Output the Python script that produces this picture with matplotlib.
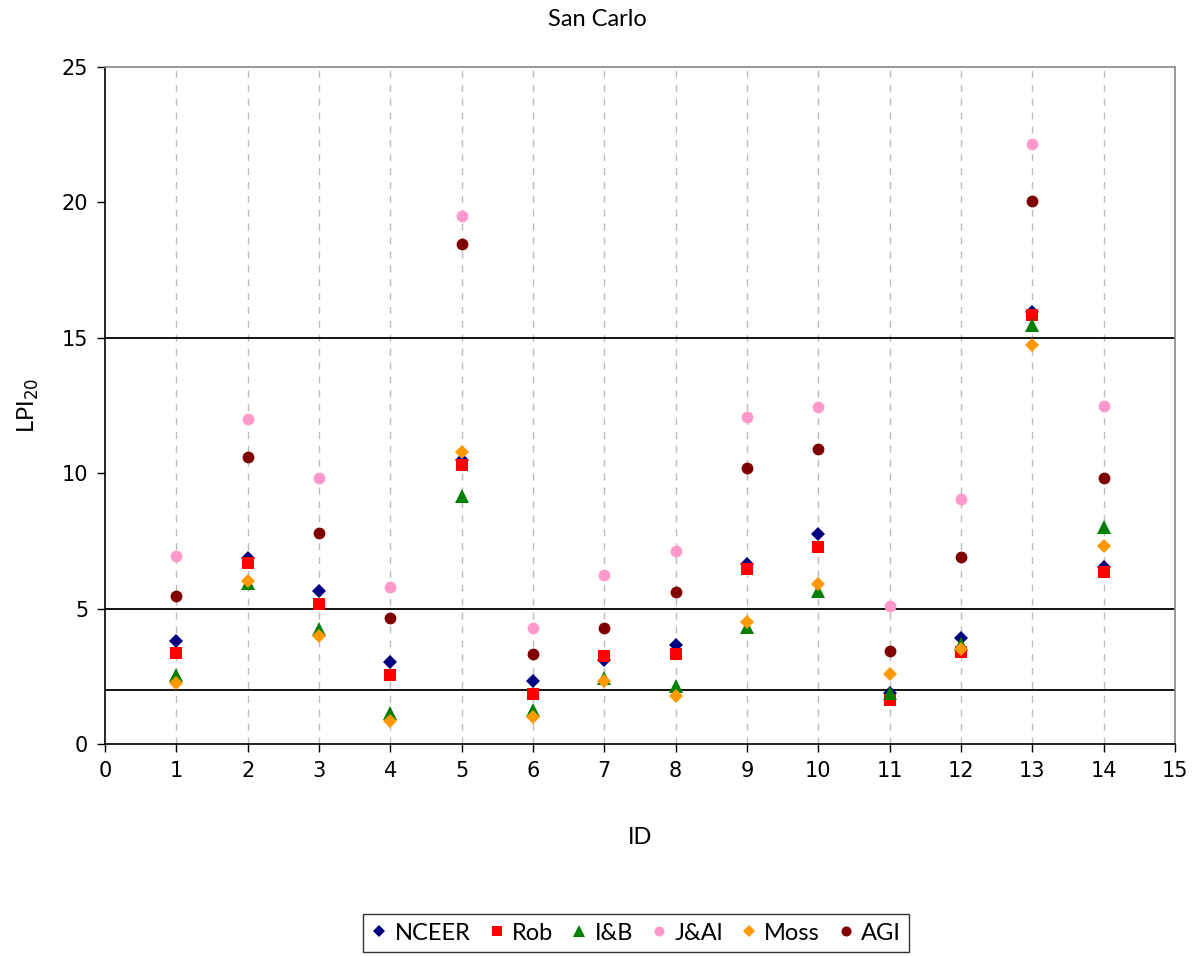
import matplotlib
matplotlib.use("Agg")
import matplotlib.pyplot as plt
from matplotlib.lines import Line2D

ids = [1, 2, 3, 4, 5, 6, 7, 8, 9, 10, 11, 12, 13, 14]
nceer = [3.80, 6.87, 5.64, 3.03, 10.50, 2.32, 3.09, 3.67, 6.65, 7.75, 1.90, 3.90, 15.96, 6.55]
rob   = [3.36, 6.70, 5.17, 2.55, 10.32, 1.85, 3.25, 3.32, 6.45, 7.28, 1.63, 3.39, 15.85, 6.36]
ib    = [2.56, 5.95, 4.26, 1.13, 9.15, 1.27, 2.42, 2.15, 4.32, 5.66, 1.90, 3.70, 15.48, 8.00]
jal   = [6.96, 12.00, 9.83, 5.81, 19.50, 4.27, 6.25, 7.14, 12.06, 12.45, 5.10, 9.06, 22.14, 12.49]
moss  = [2.25, 6.03, 3.98, 0.85, 10.80, 0.99, 2.32, 1.77, 4.50, 5.90, 2.57, 3.50, 14.72, 7.31]
agi   = [5.48, 10.59, 7.79, 4.65, 18.46, 3.32, 4.27, 5.61, 10.20, 10.91, 3.44, 6.90, 20.04, 9.82]

series = [
    ("NCEER", nceer, "D", "#000080", 7.5),
    ("Rob", rob, "s", "#FF0000", 8.5),
    ("I&B", ib, "^", "#008000", 9.5),
    ("J&Al", jal, "o", "#FF99CC", 8.5),
    ("Moss", moss, "D", "#FF9900", 7.5),
    ("AGI", agi, "o", "#800000", 8.5),
]
ref_levels = [2, 5, 15]

fig = plt.figure(figsize=(11.94, 9.56), dpi=100)
ax = fig.add_axes([105/1194, 1-744/956, (1175-105)/1194, (744-67)/956])

for x in range(1, 15):
    ax.axvline(x, color="#BBBBBB", lw=1, ls=(0, (5, 5)), zorder=0)
for y in ref_levels:
    ax.axhline(y, color="black", lw=1.3, zorder=1)

handles = []
for name, vals, mk, col, ms in series:
    ax.plot(ids, vals, ls="none", marker=mk, color=col, markersize=ms,
            markeredgewidth=0, zorder=3)
    handles.append(Line2D([], [], ls="none", marker=mk, color=col,
                          markersize=ms*0.85, markeredgewidth=0, label=name))

ax.set_xlim(0, 15)
ax.set_ylim(0, 25)
ax.set_xticks(range(0, 16))
ax.set_yticks([0, 5, 10, 15, 20, 25])
ax.tick_params(direction="out", length=6, width=1, labelsize=15, pad=6)
for lab in ax.get_xticklabels() + ax.get_yticklabels():
    lab.set_family("DejaVu Sans")
ax.spines["left"].set_color("black")
ax.spines["bottom"].set_color("black")
ax.spines["top"].set_color("#888888")
ax.spines["right"].set_color("#888888")
for s in ax.spines.values():
    s.set_linewidth(1.2)

ax.set_xlabel("ID", fontsize=17, family="Lato", labelpad=33)
fig.text(28/1194, 1-405/956, "LPI$_{20}$", rotation=90, fontsize=17,
         family="Lato", ha="center", va="center")
fig.text(597/1194, 1-20/956, "San Carlo", fontsize=17, family="Lato",
         ha="center", va="center")

leg = fig.legend(handles=handles, loc="center", bbox_to_anchor=(636/1194, 1-933/956),
                 ncol=6, frameon=True, fancybox=False, edgecolor="black",
                 prop={"family": "Lato", "size": 17}, handlelength=0.7,
                 handletextpad=0.3, columnspacing=0.75, borderpad=0.35)
leg.get_frame().set_linewidth(1)

fig.savefig("out.png", dpi=100)
